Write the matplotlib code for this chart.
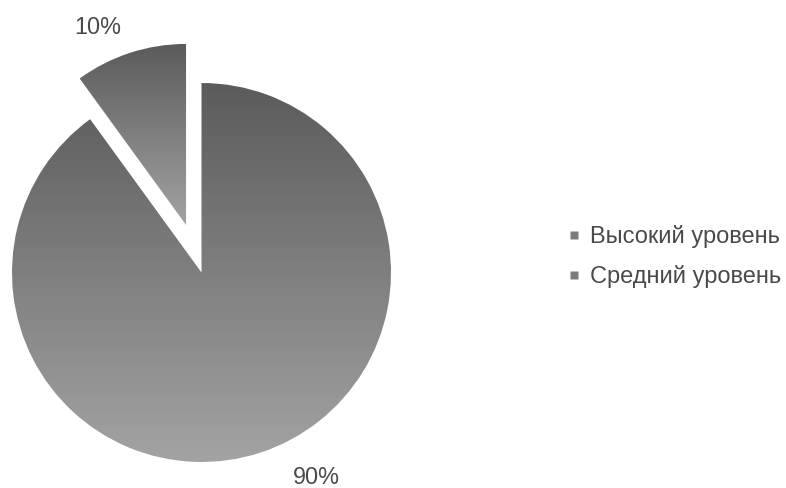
import numpy as np
import matplotlib
matplotlib.use("Agg")
import matplotlib.pyplot as plt
from matplotlib.colors import LinearSegmentedColormap
from matplotlib.lines import Line2D

plt.rcParams['font.family'] = ['Liberation Sans', 'DejaVu Sans']

categories = ["Высокий уровень", "Средний уровень"]
shares = [10, 90]
pct_labels = ["10%", "90%"]

W, H = 786, 488
TEXT = "#4a4a4a"
shade = LinearSegmentedColormap.from_list("shade", ["#a3a3a3", "#5b5b5b"])

fig = plt.figure(figsize=(W / 100, H / 100), dpi=100)
ax = fig.add_axes([0, 0, 1, 1])

cx, cy, r = 201.5, H - 272.5, 189.5
wedges, _ = ax.pie(shares, explode=[50, 0], startangle=90, counterclock=True,
                   radius=r, center=(cx, cy))
wedges[0].set_radius(181)

# vertical grey gradient inside every slice, top dark -> bottom light
grad = np.linspace(0, 1, 256).reshape(-1, 1)
for w in wedges:
    ext = w.get_path().get_extents()
    w.set_facecolor("none")
    w.set_edgecolor("none")
    im = ax.imshow(grad, cmap=shade, origin="lower", aspect="auto",
                   extent=[ext.x0, ext.x1, ext.y0, ext.y1], interpolation="bilinear")
    im.set_clip_path(w)

ax.set_xlim(0, W)
ax.set_ylim(0, H)
ax.set_aspect("equal")
ax.axis("off")

label_pos = [(98, H - 27), (316, H - 477)]
for txt, (x, y) in zip(pct_labels, label_pos):
    ax.text(x, y, txt, ha="center", va="center", fontsize=16.8, color=TEXT)

handles = [Line2D([], [], linestyle="none", marker="s", markersize=5.2,
                  markerfacecolor="#7c7c7c", markeredgecolor="none")
           for _ in categories]
leg = ax.legend(handles, categories, loc="center left",
                bbox_to_anchor=(568 / W, 1 - 257 / H), frameon=False,
                fontsize=17, labelcolor=TEXT, handlelength=0.5,
                handletextpad=0.42, labelspacing=0.72, borderpad=0, borderaxespad=0)

fig.savefig("out.png", dpi=100)
